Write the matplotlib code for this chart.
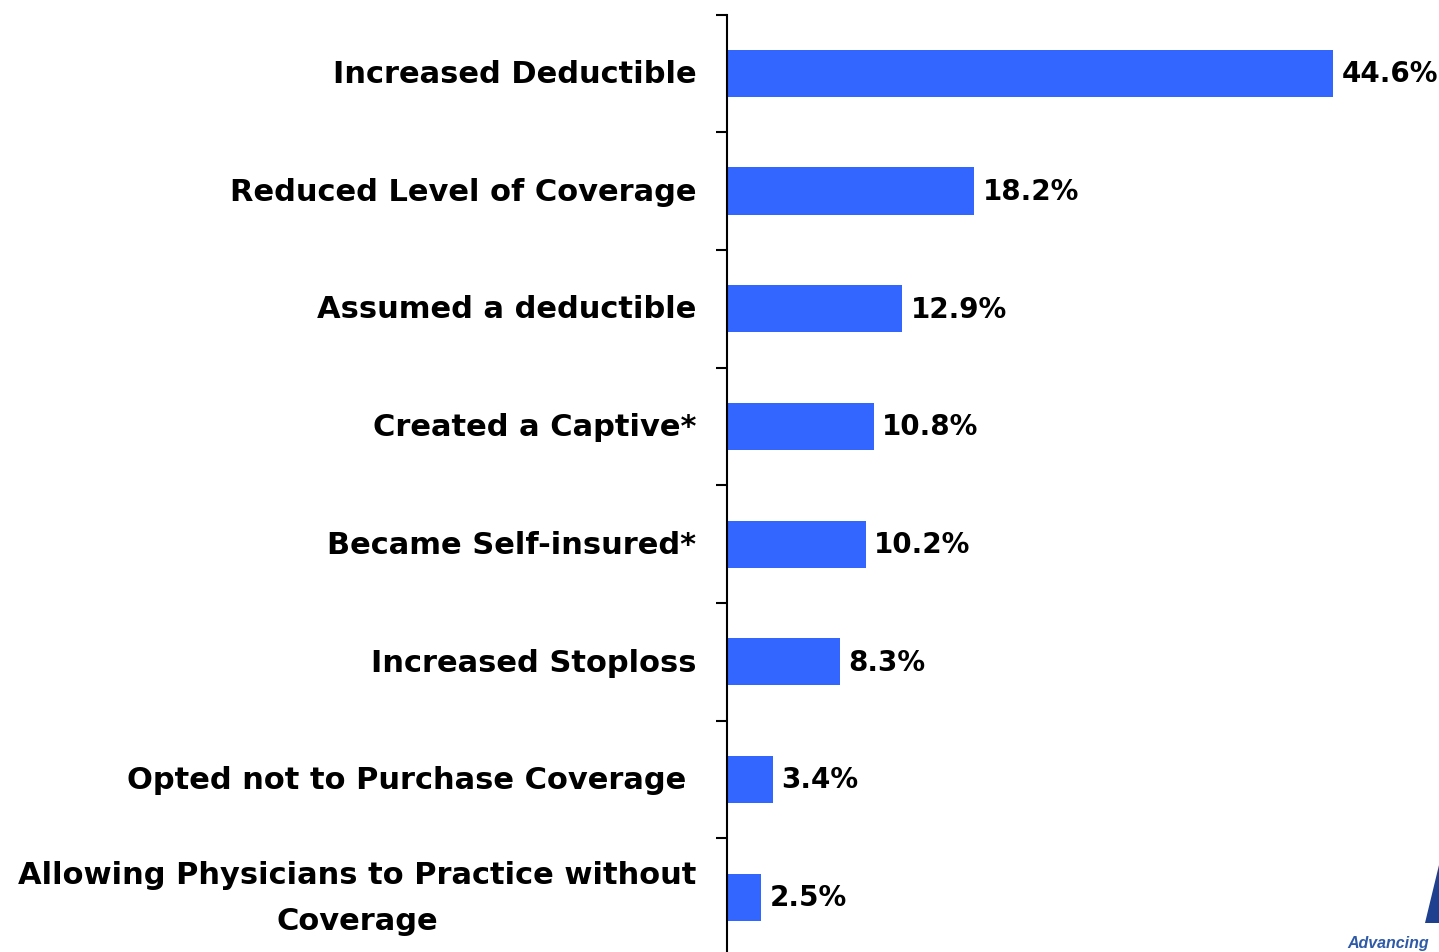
import matplotlib
matplotlib.use("Agg")
import matplotlib.pyplot as plt
import matplotlib.transforms as mtransforms
from matplotlib.patches import Polygon
from matplotlib.ticker import FixedLocator

# ── Data ─────────────────────────────────────────────────────────────────────

categories = [
    "Increased Deductible",
    "Reduced Level of Coverage",
    "Assumed a deductible",
    "Created a Captive*",
    "Became Self-insured*",
    "Increased Stoploss",
    "Opted not to Purchase Coverage ",
    "Allowing Physicians to Practice without\nCoverage",
]
values = [44.6, 18.2, 12.9, 10.8, 10.2, 8.3, 3.4, 2.5]
value_labels = ["44.6%", "18.2%", "12.9%", "10.8%", "10.2%", "8.3%", "3.4%", "2.5%"]

BAR_COLOR = "#3366FF"
FONT = ["DejaVu Sans"]
LABEL_FS = 22
VALUE_FS = 20

plt.rcParams["font.family"] = FONT

W, H = 1439, 953
fig = plt.figure(figsize=(W / 100, H / 100), dpi=100)

# axis line sits at x=727px; category band runs from ~15px down past the bottom edge
left = 727 / W
top = 1 - 15.5 / H
bottom = -4 / H
ax = fig.add_axes([left, bottom, 1 - left, top - bottom])

y = list(range(len(categories)))
ax.barh(y, values, height=0.4, color=BAR_COLOR, edgecolor="none")

px_per_unit = 606 / 44.6
ax.set_xlim(0, (W - 727) / px_per_unit)
ax.set_ylim(len(categories) - 0.5, -0.5)

for yi, v, lab in zip(y, values, value_labels):
    ax.annotate(lab, xy=(v, yi), xytext=(6, 0), textcoords="offset points",
                va="center", ha="left", fontsize=VALUE_FS, fontweight="bold",
                annotation_clip=False)

ax.set_yticks(y)
ax.set_yticklabels(categories, fontsize=LABEL_FS, fontweight="bold")
ax.yaxis.set_minor_locator(FixedLocator([i - 0.5 for i in range(len(categories) + 1)]))
ax.tick_params(axis="y", which="major", length=0, pad=22)
ax.tick_params(axis="y", which="minor", length=8, width=1.5, direction="out")

# nudge labels up a touch; the two-line one a bit more
for t in ax.get_yticklabels():
    dy = 2 / 72
    if "\n" in t.get_text():
        t.set_multialignment("center")
        t.set_linespacing(1.75)
        dy = 8 / 72
    t.set_transform(t.get_transform()
                    + mtransforms.ScaledTranslation(0, dy, fig.dpi_scale_trans))

ax.set_xticks([])
for side in ("top", "right", "bottom"):
    ax.spines[side].set_visible(False)
ax.spines["left"].set_linewidth(1.5)
ax.patch.set_alpha(0)

# cropped logo fragment in the bottom-right corner
fig.patches.append(Polygon([(1425 / W, 1 - 924 / H), (1439 / W, 1 - 866 / H),
                            (1439 / W, 1 - 924 / H)], closed=True,
                           transform=fig.transFigure, facecolor="#1f3f8f",
                           edgecolor="none"))
fig.text(1347 / W, 1 - 944 / H, "Advancing", fontsize=11.5, fontweight="bold",
         fontstyle="italic", color="#2f5aa8", ha="left", va="center",
         family=["Liberation Sans"])

fig.savefig("out.png", dpi=100)
